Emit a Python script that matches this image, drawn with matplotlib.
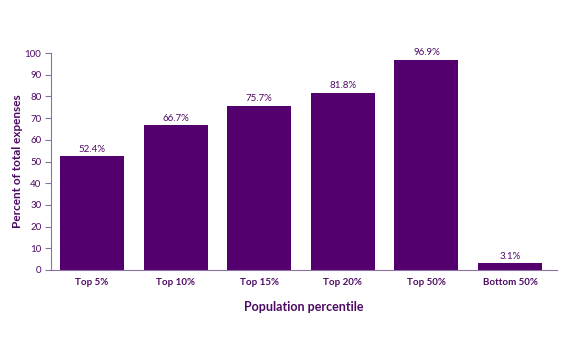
import matplotlib.pyplot as plt

groups = ['Top 5%', 'Top 10%', 'Top 15%', 'Top 20%', 'Top 50%', 'Bottom 50%']
shares = [52.4, 66.7, 75.7, 81.8, 96.9, 3.1]

bar_color = '#53006e'
text_color = '#4d0a63'
axis_color = '#8f6f9f'

plt.rcParams['font.family'] = ['Lato', 'DejaVu Sans']

fig = plt.figure(figsize=(5.77, 3.38), dpi=100)
ax = fig.add_axes([0.0884, 0.2012, 0.8766, 0.6418])

x = range(len(groups))
ax.bar(x, shares, width=0.765, color=bar_color)
for i, v in zip(x, shares):
    ax.text(i, v + 1.2, '%.1f%%' % v, ha='center', va='bottom',
            fontsize=7, color=text_color)

ax.set_xlim(-0.49, 5.56)
ax.set_ylim(0, 100)
ax.set_yticks(range(0, 101, 10))
ax.set_xticks(list(x))
ax.set_xticklabels(groups, fontsize=7, fontweight='bold', color=text_color)
ax.tick_params(axis='x', length=0, pad=6)
ax.tick_params(axis='y', length=4, width=0.8, color=axis_color,
               labelsize=7, labelcolor=text_color, pad=3)

for s in ['top', 'right']:
    ax.spines[s].set_visible(False)
for s in ['left', 'bottom']:
    ax.spines[s].set_color(axis_color)
    ax.spines[s].set_linewidth(0.8)

ax.set_ylabel('Percent of total expenses', fontsize=8.5, fontweight='bold',
              color=text_color)
ax.yaxis.set_label_coords(-0.055, 0.5)
ax.set_xlabel('Population percentile', fontsize=9, fontweight='bold',
              color=text_color, labelpad=10)

fig.savefig('out.png', dpi=100)
